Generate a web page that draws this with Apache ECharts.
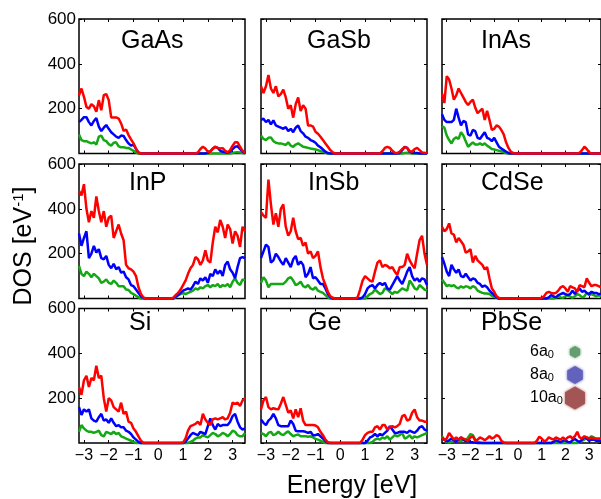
<!DOCTYPE html>
<html><head><meta charset="utf-8">
<script src="https://cdn.jsdelivr.net/npm/echarts@6/dist/echarts.min.js"></script>
<style>html,body{margin:0;padding:0;background:#fff}#c{width:601px;height:499px}</style>
</head><body><div id="c"></div>
<script>
// Energy grid (eV)
const energy = [-3.2,-3.1,-3,-2.9,-2.8,-2.7,-2.6,-2.5,-2.4,-2.3,-2.2,-2.1,-2,-1.9,-1.8,-1.7,-1.6,-1.5,-1.4,-1.3,-1.2,-1.1,-1,-0.9,-0.8,-0.7,-0.6,-0.5,-0.4,-0.3,-0.2,-0.1,
  0,0.1,0.2,0.3,0.4,0.5,0.6,0.7,0.8,0.9,1,1.1,1.2,1.3,1.4,1.5,1.6,1.7,1.8,1.9,2,2.1,2.2,2.3,2.4,2.5,2.6,2.7,2.8,2.9,3,3.1,3.2,3.3,3.4,3.5];
const materials = ['GaAs','GaSb','InAs','InP','InSb','CdSe','Si','Ge','PbSe'];
const sizeLabels = ['6', '8', '10'];
const xTicks = [-3,-2,-1,0,1,2,3];

// DOS [eV^-1] for 6a0, 8a0, 10a0 nanocrystals
const gaAs6 = [85,60,55,55,50,45,50,40,75,80,60,55,42,35,48,50,32,28,28,25,25,18,12,5,0,0,0,0,0,0,0,0,
  0,0,0,0,0,0,0,0,0,0,0,0,0,0,0,0,0,0,0,0,0,0,0,0,0,0,0,0,0,0,2,5,6,4,2,0];
const gaAs8 = [140,150,162,162,140,125,145,158,120,100,115,127,110,95,85,75,70,80,78,60,45,35,40,20,5,0,0,0,0,0,0,0,
  0,0,0,0,0,0,0,0,0,0,0,0,0,0,0,0,0,0,0,0,3,10,22,30,25,12,8,5,3,8,20,30,32,20,8,2];
const gaAs10 = [260,290,253,208,200,220,211,186,238,193,260,265,238,161,161,161,156,134,101,107,82,63,45,22,3,0,0,0,0,0,0,0,
  0,0,0,0,0,0,0,0,0,0,0,0,0,0,0,0,5,20,30,22,8,8,20,30,25,22,24,12,5,15,35,50,50,30,12,3];

const gaSb6 = [80,65,60,70,72,55,48,45,45,42,38,50,35,30,40,45,38,30,28,25,22,20,18,15,10,8,4,0,0,0,0,0,
  0,0,0,0,0,0,0,0,0,0,0,0,0,0,0,0,0,0,0,0,0,0,0,0,0,0,2,3,2,0,0,0,0,0,0,0];
const gaSb8 = [150,155,140,150,130,148,125,120,115,110,118,100,110,95,115,125,100,90,75,70,60,55,48,35,28,18,8,2,0,0,0,0,
  0,0,0,0,0,0,0,0,0,0,0,0,0,0,0,0,0,0,0,0,0,0,0,0,2,15,30,25,8,3,2,2,0,0,0,0];
const gaSb10 = [300,270,300,350,290,270,300,255,265,285,250,200,215,160,220,250,190,215,200,125,125,120,97,88,75,60,45,30,15,5,0,0,
  0,0,0,0,0,0,0,0,0,0,0,0,0,0,0,0,0,10,25,30,25,12,3,2,8,20,28,25,10,8,20,25,15,5,3,2];

const inAs6 = [122,115,80,60,45,65,72,65,95,80,55,30,40,50,40,40,45,38,45,35,28,20,18,15,12,10,5,2,0,0,0,0,
  0,0,0,0,0,0,0,0,0,0,0,0,0,0,0,0,0,0,0,0,0,0,0,0,0,0,0,0,0,0,0,0,0,0,0,0];
const inAs8 = [175,150,140,140,140,150,200,160,125,145,140,85,80,105,100,70,65,80,95,70,65,55,70,50,30,22,15,8,2,0,0,0,
  0,0,0,0,0,0,0,0,0,0,0,0,0,0,0,0,0,0,0,0,0,0,0,0,0,0,0,0,0,0,0,0,0,0,0,0];
const inAs10 = [268,225,345,330,290,240,260,290,270,250,230,216,230,240,205,180,190,200,150,190,150,105,110,125,120,105,85,50,25,8,2,0,
  0,0,0,0,0,0,0,0,0,0,0,0,0,0,0,0,0,0,0,0,0,0,0,0,0,0,3,15,30,20,5,0,0,0,0,0];

const inP6 = [145,110,100,120,110,95,110,100,90,70,75,85,70,65,80,70,55,55,55,40,38,25,20,12,5,0,0,0,0,0,0,0,
  0,0,0,0,0,0,0,5,15,20,25,20,25,30,35,45,40,50,45,55,60,50,60,55,65,50,60,55,65,50,75,90,70,60,85,80];
const inP8 = [290,235,270,300,180,200,235,205,220,180,175,190,150,135,155,130,140,115,120,95,85,60,55,40,25,10,2,0,0,0,0,0,
  0,0,0,0,0,0,0,8,15,25,35,40,45,40,55,75,65,90,80,95,70,110,100,130,110,125,100,150,165,130,115,90,140,180,185,180];
const inP10 = [480,460,510,400,340,390,360,455,390,340,390,320,360,370,270,300,330,290,260,150,135,130,120,100,50,20,5,0,0,0,0,0,
  0,0,0,0,0,0,3,15,25,40,60,80,110,135,150,185,175,150,170,215,170,160,250,320,295,350,320,270,330,310,245,300,280,230,320,300];

const inSb6 = [70,95,80,50,65,65,65,65,65,65,75,90,95,80,60,65,75,55,50,60,45,40,50,35,30,25,15,5,0,0,0,0,
  0,0,0,0,0,0,0,0,0,0,0,10,20,25,40,30,20,25,45,40,30,20,30,25,35,45,40,35,80,65,45,40,60,50,40,35];
const inSb8 = [180,210,240,230,160,170,200,185,165,150,180,160,140,175,190,150,165,150,95,110,140,90,95,80,65,65,45,20,5,0,0,0,
  0,0,0,0,0,0,0,0,0,5,20,45,55,60,45,60,70,60,70,45,40,60,80,100,80,65,90,120,140,100,80,90,75,90,85,60];
const inSb10 = [385,370,360,530,420,330,380,320,400,420,320,280,300,360,300,265,270,235,250,200,210,180,190,210,140,90,60,30,10,3,0,0,
  0,0,0,0,0,0,0,5,40,80,100,90,80,75,120,160,170,140,150,145,135,140,120,105,140,140,150,200,170,150,135,200,260,280,200,150];

const cdSe6 = [85,70,55,60,55,60,50,45,55,48,55,52,45,55,50,35,30,25,22,22,20,12,8,3,0,0,0,0,0,0,0,0,
  0,0,0,0,0,0,0,0,0,0,0,0,0,0,0,0,3,10,5,3,10,15,8,3,10,20,15,5,10,25,15,20,15,10,15,10];
const cdSe8 = [185,155,120,100,150,130,115,130,100,95,110,95,80,90,85,70,65,52,58,50,35,25,15,5,0,0,0,0,0,0,0,0,
  0,0,0,0,0,0,0,0,0,0,0,0,0,5,15,10,5,15,20,25,20,15,20,35,20,35,45,30,35,25,20,30,25,25,20,20];
const cdSe10 = [320,300,310,335,290,285,250,270,255,240,205,210,220,160,190,170,160,150,130,140,90,45,30,10,2,0,0,0,0,0,0,0,
  0,0,0,0,0,0,0,0,0,0,3,10,25,30,25,22,25,35,50,55,45,30,55,50,45,30,60,55,50,90,70,55,60,60,55,50];

const si6 = [50,80,65,55,50,50,45,50,55,35,30,50,45,40,50,40,45,30,25,20,15,10,5,0,0,0,0,0,0,0,0,0,
  0,0,0,0,0,0,0,0,0,0,0,0,0,5,10,20,25,25,35,30,25,35,45,40,30,35,45,40,30,40,55,50,35,30,30,45];
const si8 = [160,125,150,140,150,110,100,95,115,130,100,105,90,110,90,75,80,70,70,55,50,40,25,15,5,0,0,0,0,0,0,0,
  0,0,0,0,0,0,0,0,0,0,0,5,20,35,45,40,35,50,45,40,75,110,80,60,85,75,80,80,80,95,120,130,95,70,60,65];
const si10 = [250,215,280,300,250,290,280,345,290,300,200,140,200,190,160,150,140,180,130,140,95,90,65,50,30,10,0,0,0,0,0,0,
  0,0,0,0,0,0,0,0,0,0,2,20,55,75,80,85,95,80,130,105,90,80,105,110,105,110,115,105,110,135,180,175,180,165,190,200];

const ge6 = [45,40,30,45,50,35,40,50,40,35,45,52,40,30,35,38,30,30,30,28,30,25,18,15,10,5,0,0,0,0,0,0,
  0,0,0,0,0,0,0,0,0,0,0,0,0,5,15,20,15,25,20,30,15,25,35,30,35,45,20,25,35,20,30,25,30,35,40,45];
const ge8 = [105,90,80,100,110,130,110,80,75,75,75,75,100,85,55,52,52,52,50,45,50,35,35,40,30,20,8,0,0,0,0,0,
  0,0,0,0,0,0,0,0,0,0,0,10,25,30,40,30,40,35,45,55,75,60,45,45,50,50,50,45,55,50,45,55,70,75,60,55];
const ge10 = [150,190,205,160,150,155,152,150,175,205,170,135,145,110,150,115,155,100,80,80,80,80,78,70,50,35,15,3,0,0,0,0,
  0,0,0,0,0,0,0,0,0,15,35,45,50,50,70,75,60,80,80,60,70,75,70,75,85,120,125,100,105,135,150,115,100,100,95,95];

const pbSe6 = [30,15,5,2,5,10,15,12,8,15,10,25,40,35,15,5,2,0,0,0,0,0,0,0,0,0,0,0,0,0,0,0,
  0,0,0,0,0,0,0,0,0,0,0,0,0,0,0,0,0,0,0,0,0,0,0,0,0,0,5,10,15,25,20,30,25,15,15,15];
const pbSe8 = [20,15,8,12,20,12,5,15,25,15,8,10,5,3,2,0,0,0,0,0,0,0,0,0,0,0,0,0,0,0,0,0,
  0,0,0,0,0,0,0,0,0,0,0,0,0,0,0,5,12,8,3,10,12,5,3,12,18,10,5,15,28,20,10,15,15,10,10,10];
const pbSe10 = [25,12,20,45,30,15,25,15,25,20,15,10,25,30,10,15,25,20,12,20,30,20,25,35,30,10,2,0,0,0,0,0,
  0,0,0,0,0,0,0,0,10,28,20,8,12,25,20,15,25,20,15,25,15,25,30,20,30,50,25,20,30,25,20,25,20,20,20,20];

const panelData = [
  [gaAs6, gaAs8, gaAs10], [gaSb6, gaSb8, gaSb10], [inAs6, inAs8, inAs10],
  [inP6, inP8, inP10], [inSb6, inSb8, inSb10], [cdSe6, cdSe8, cdSe10],
  [si6, si8, si10], [ge6, ge8, ge10], [pbSe6, pbSe8, pbSe10]
];

// ---- layout & style ----
const FONT = '"Liberation Sans", Arial, Helvetica, sans-serif';
const colLeft = [79, 261, 442], rowTop = [19, 164, 308.5], panelW = 166, panelH = 134.5;
const titlePos = [[121,29],[307,29],[481,29],[129,171],[308,171],[481,171],[129,311],[308,311],[481,311]];
const lineColors = ['#14a814', '#0000ff', '#ff0000'];
const hexColors = ['#649d70', '#6262bd', '#a35555'];

const grid = [], xAxis = [], yAxis = [], series = [], title = [];
const tick = { show: true, inside: true, length: 3, lineStyle: { color: '#000', width: 1 } };
const fmt = v => String(v).replace('-', '\u2212');

materials.forEach((name, i) => {
  const r = Math.floor(i / 3), c = i % 3;
  grid.push({ left: colLeft[c], top: rowTop[r], width: panelW, height: panelH, show: true,
    borderColor: '#000', borderWidth: 1.5, backgroundColor: 'transparent' });
  ['bottom', 'top'].forEach(pos => xAxis.push({
    type: 'value', gridIndex: i, position: pos, min: -3.2, max: 3.5,
    axisLine: { show: false, onZero: false }, splitLine: { show: false },
    axisTick: Object.assign({}, tick, { customValues: xTicks }),
    axisLabel: { show: pos === 'bottom' && r === 2, customValues: xTicks, formatter: fmt,
      color: '#000', fontSize: 16, fontFamily: FONT, margin: 5 }
  }));
  ['left', 'right'].forEach(pos => yAxis.push({
    type: 'value', gridIndex: i, position: pos, min: 0, max: 600, interval: 200,
    axisLine: { show: false, onZero: false }, splitLine: { show: false }, axisTick: tick,
    axisLabel: { show: pos === 'left' && c === 0, showMinLabel: false, color: '#000',
      fontSize: 17, fontFamily: FONT, margin: 3 }
  }));
  panelData[i].forEach((arr, k) => series.push({
    type: 'line', xAxisIndex: 2 * i, yAxisIndex: 2 * i, name: sizeLabels[k],
    data: energy.map((e, j) => [e, arr[j]]), symbol: 'none', showSymbol: false,
    clip: false, silent: true, z: 2 + k,
    lineStyle: { color: lineColors[k], width: 2.5 }
  }));
  title.push({ text: name, left: titlePos[i][0], top: titlePos[i][1], padding: 0,
    textStyle: { fontSize: 25, fontWeight: 'normal', color: '#000', fontFamily: FONT } });
});

function hexPoints(cx, cy, rad) {
  const pts = [];
  for (let k = 0; k < 6; k++) {
    const a = -Math.PI / 2 + k * Math.PI / 3;
    pts.push([cx + rad * Math.cos(a), cy + rad * Math.sin(a)]);
  }
  return pts;
}
const legendY = [352, 375, 398], hexR = [6, 9, 11.5];
const graphic = [
  { type: 'text', x: 352, y: 474, style: { text: 'Energy [eV]', fontSize: 25, fontFamily: FONT,
    fill: '#000', align: 'center', verticalAlign: 'top' } },
  { type: 'text', x: 24, y: 246, rotation: Math.PI / 2,
    style: { text: 'DOS [eV{s|-1}]', fontSize: 25, fontFamily: FONT, fill: '#000',
      align: 'center', verticalAlign: 'middle',
      rich: { s: { fontSize: 15, fontFamily: FONT, fill: '#000', verticalAlign: 'top' } } } }
];
sizeLabels.forEach((s, k) => {
  graphic.push({ type: 'text', x: 530, y: legendY[k], style: { text: s + 'a{sub|0}', fontSize: 16,
    fontFamily: FONT, fill: '#000', align: 'left', verticalAlign: 'middle',
    rich: { sub: { fontSize: 11, fontFamily: FONT, fill: '#000', verticalAlign: 'bottom' } } } });
  graphic.push({ type: 'polygon', shape: { points: hexPoints(575, legendY[k], hexR[k]) },
    style: { fill: hexColors[k], shadowBlur: 3, shadowColor: hexColors[k] } });
});

const chart = echarts.init(document.getElementById('c'), null, { renderer: 'canvas' });
chart.setOption({
  animation: false, backgroundColor: '#fff', textStyle: { fontFamily: FONT },
  title, grid, xAxis, yAxis, series, graphic
});
</script></body></html>
